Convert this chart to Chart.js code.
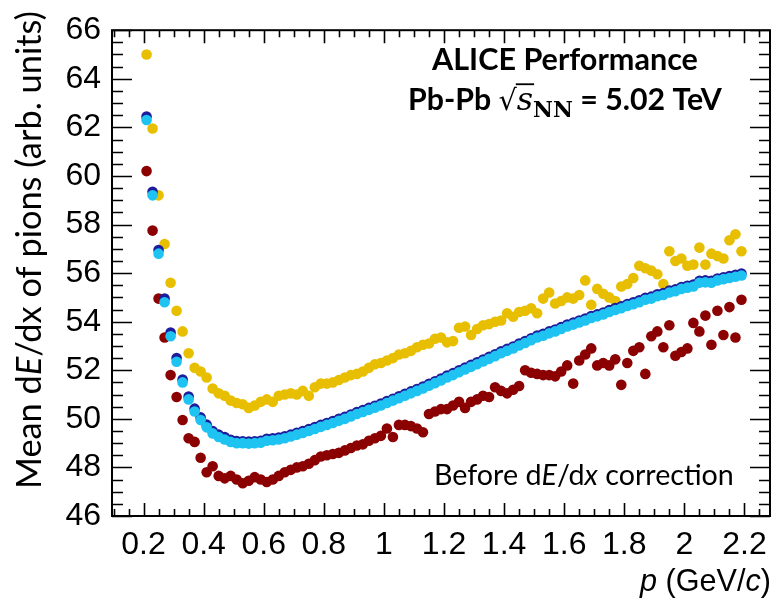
<!DOCTYPE html>
<html><head><meta charset="utf-8">
<script src="https://cdn.jsdelivr.net/npm/chart.js@4.4.1/dist/chart.umd.min.js"></script>
<style>html,body{margin:0;padding:0;background:#fff;}#wrap{position:relative;width:781px;height:601px;}</style>
</head><body><div id="wrap"><canvas id="c" width="781" height="601"></canvas></div>
<script>
// momentum bin centres (GeV/c)
const momentum = [0.21,0.23,0.25,0.27,0.29,0.31,0.33,0.35,0.37,0.39,
 0.41,0.43,0.45,0.47,0.49,0.51,0.53,0.55,0.57,0.59,
 0.61,0.63,0.65,0.67,0.69,0.71,0.73,0.75,0.77,0.79,
 0.81,0.83,0.85,0.87,0.89,0.91,0.93,0.95,0.97,0.99,
 1.01,1.03,1.05,1.07,1.09,1.11,1.13,1.15,1.17,1.19,
 1.21,1.23,1.25,1.27,1.29,1.31,1.33,1.35,1.37,1.39,
 1.41,1.43,1.45,1.47,1.49,1.51,1.53,1.55,1.57,1.59,
 1.61,1.63,1.65,1.67,1.69,1.71,1.73,1.75,1.77,1.79,
 1.81,1.83,1.85,1.87,1.89,1.91,1.93,1.95,1.97,1.99,
 2.01,2.03,2.05,2.07,2.09,2.11,2.13,2.15,2.17,2.19];

const meanYellow = [65.0,61.95,59.2,57.2,55.6,54.45,53.6,52.7,52.1,51.95,
 51.7,51.25,51.05,50.95,50.75,50.65,50.6,50.45,50.55,50.7,
 50.8,50.7,50.95,51.0,51.05,51.0,51.15,50.95,51.3,51.45,
 51.45,51.5,51.6,51.7,51.8,51.85,51.95,52.1,52.25,52.3,
 52.4,52.5,52.65,52.7,52.8,52.95,53.05,53.1,53.3,53.35,
 53.15,53.2,53.75,53.8,53.45,53.7,53.85,53.9,54.0,54.05,
 54.35,54.2,54.4,54.45,54.55,54.35,54.95,55.2,54.75,54.85,
 55.0,54.95,55.1,55.7,54.7,55.35,55.15,55.0,54.85,55.45,
 55.55,55.8,56.3,56.2,56.1,55.95,55.55,56.9,56.5,56.6,
 56.3,56.35,57.05,56.35,56.8,56.7,56.6,57.35,57.6,56.9];

const meanRed = [60.2,57.75,54.95,53.35,51.8,50.9,49.95,49.2,49.05,48.4,
 47.8,48.05,47.65,47.55,47.65,47.5,47.35,47.45,47.6,47.5,
 47.4,47.5,47.65,47.8,47.9,48.0,48.05,48.15,48.3,48.45,
 48.5,48.55,48.6,48.7,48.8,48.9,48.95,49.1,49.2,49.3,
 49.6,49.25,49.75,49.75,49.7,49.6,49.45,50.2,50.3,50.4,
 50.4,50.55,50.7,50.45,50.7,50.8,50.95,50.9,51.3,51.15,
 51.05,51.2,51.35,52.0,51.9,51.85,51.8,51.8,51.75,51.95,
 52.2,51.45,52.4,52.65,52.9,52.2,52.3,52.2,52.45,51.4,
 52.3,52.8,52.95,51.85,53.4,53.6,52.95,53.85,52.6,52.75,
 52.9,53.95,53.6,54.25,53.05,54.45,53.45,54.6,53.35,54.9];

const meanBlue = [62.45,59.35,56.95,54.95,53.55,52.5,51.62,50.92,50.42,50.06,
 49.76,49.5,49.35,49.25,49.14,49.09,49.08,49.06,49.08,49.1,
 49.18,49.2,49.23,49.28,49.35,49.43,49.5,49.58,49.66,49.75,
 49.83,49.91,50.0,50.08,50.18,50.28,50.36,50.45,50.54,50.63,
 50.73,50.83,50.93,51.03,51.13,51.23,51.33,51.44,51.55,51.66,
 51.78,51.88,52.0,52.11,52.22,52.33,52.44,52.55,52.66,52.78,
 52.88,52.98,53.1,53.2,53.32,53.43,53.5,53.6,53.68,53.78,
 53.88,53.96,54.05,54.13,54.23,54.3,54.38,54.48,54.56,54.63,
 54.73,54.8,54.88,54.98,55.03,55.13,55.18,55.28,55.33,55.43,
 55.48,55.53,55.68,55.7,55.68,55.78,55.83,55.88,55.93,55.98];

const meanCyan = [62.3,59.2,56.8,54.8,53.4,52.35,51.5,50.8,50.3,49.95,
 49.65,49.4,49.25,49.15,49.05,49.0,49.0,48.98,49.0,49.02,
 49.1,49.12,49.15,49.2,49.27,49.35,49.42,49.5,49.58,49.67,
 49.75,49.83,49.92,50.0,50.1,50.2,50.28,50.37,50.46,50.55,
 50.65,50.75,50.85,50.95,51.05,51.15,51.25,51.36,51.47,51.58,
 51.7,51.8,51.92,52.03,52.14,52.25,52.36,52.47,52.58,52.7,
 52.8,52.9,53.02,53.12,53.24,53.35,53.42,53.52,53.6,53.7,
 53.8,53.88,53.97,54.05,54.15,54.22,54.3,54.4,54.48,54.55,
 54.65,54.72,54.8,54.9,54.95,55.05,55.1,55.2,55.25,55.35,
 55.4,55.45,55.6,55.62,55.6,55.7,55.75,55.8,55.85,55.9];

const xTickValues = [0.2,0.4,0.6,0.8,1.0,1.2,1.4,1.6,1.8,2.0,2.2];
const xTickLabels = ['0.2','0.4','0.6','0.8','1','1.2','1.4','1.6','1.8','2','2.2'];
const yTickValues = [46,48,50,52,54,56,58,60,62,64,66];
const yTickLabels = ['46','48','50','52','54','56','58','60','62','64','66'];

const X_MIN = 0.095, X_MAX = 2.285, Y_MIN = 46, Y_MAX = 66;
const TICK_FONT = '"Liberation Sans Narrow", "Liberation Sans"';
const TITLE_FONT = 'Liberation Sans';
const TEXT_FONT = 'Lato';

function points(ys){ return momentum.map((p,i)=>({x:p,y:ys[i]})); }

function fontOf(s,S){ return `${s.style||'normal'} ${s.weight||'normal'} ${(s.k||1)*S}px ${s.family}`; }
function richWidth(ctx,segs,S){ let w=0; for(const s of segs){ctx.font=fontOf(s,S); w+=ctx.measureText(s.t).width;} return w; }
function fitSize(ctx,segs,target){ return 100*target/richWidth(ctx,segs,100); }
function drawRich(ctx,segs,x,y,S){
  let cx=x;
  for(const s of segs){
    ctx.font=fontOf(s,S);
    const w=ctx.measureText(s.t).width;
    ctx.fillText(s.t,cx,y+(s.dy||0)*S);
    if(s.over){ ctx.fillRect(cx-1,y-s.over*S,w+2,Math.max(1.5,S*0.06)); }
    cx+=w;
  }
}

const framePlugin = {
  id:'frame',
  afterDraw(chart){
    const ctx=chart.ctx, a=chart.chartArea, xs=chart.scales.x, ys=chart.scales.y;
    ctx.save();
    ctx.strokeStyle='#000'; ctx.lineWidth=2;
    ctx.strokeRect(a.left,a.top,a.right-a.left,a.bottom-a.top);
    ctx.lineWidth=1.6;
    ctx.beginPath();
    for(let k=0;k<=40;k++){
      const v=Y_MIN+k*0.5; const py=Math.round(ys.getPixelForValue(v))+0.5;
      const L=(k%4===0)?20:11;
      ctx.moveTo(a.left,py); ctx.lineTo(a.left+L,py);
      ctx.moveTo(a.right,py); ctx.lineTo(a.right-L,py);
    }
    for(let k=2;k<=45;k++){
      const v=k*0.05; if(v<X_MIN||v>X_MAX) continue;
      const px=Math.round(xs.getPixelForValue(v))+0.5;
      const L=(k%4===0)?13:7;
      ctx.moveTo(px,a.bottom); ctx.lineTo(px,a.bottom-L);
      ctx.moveTo(px,a.top); ctx.lineTo(px,a.top+L);
    }
    ctx.stroke();

    ctx.fillStyle='#000'; ctx.textBaseline='alphabetic'; ctx.textAlign='left';
    const t1=[{t:'ALICE Performance',weight:'bold',family:TEXT_FONT}];
    drawRich(ctx,t1,432,70,fitSize(ctx,t1,266));
    const t2=[{t:'Pb-Pb ',weight:'bold',family:TEXT_FONT},
      {t:'\u221A',family:'DejaVu Sans',k:0.95},
      {t:'s',style:'italic',family:'DejaVu Serif',k:1.05,over:0.88},
      {t:'NN',weight:'bold',family:'DejaVu Serif',k:0.72,dy:0.22},
      {t:' = 5.02 TeV',weight:'bold',family:TEXT_FONT}];
    drawRich(ctx,t2,408,110,fitSize(ctx,t2,314));
    const t3=[{t:'Before d',family:TEXT_FONT},{t:'E',style:'italic',family:TEXT_FONT},
      {t:'/d',family:TEXT_FONT},{t:'x',style:'italic',family:TEXT_FONT},{t:' correction',family:TEXT_FONT}];
    drawRich(ctx,t3,434,485,fitSize(ctx,t3,300));
    const tx=[{t:'p',style:'italic',family:TICK_FONT},{t:' (GeV/',family:TICK_FONT},
      {t:'c',style:'italic',family:TICK_FONT},{t:')',family:TICK_FONT}];
    const Sx=fitSize(ctx,tx,131);
    drawRich(ctx,tx,771-richWidth(ctx,tx,Sx),591,Sx);
    const ty=[{t:'Mean d',family:TEXT_FONT},{t:'E',style:'italic',family:TEXT_FONT},
      {t:'/dx of pions (arb. units)',family:TEXT_FONT}];
    const Sy=fitSize(ctx,ty,478);
    ctx.translate(41,489); ctx.rotate(-Math.PI/2);
    drawRich(ctx,ty,0,0,Sy);
    ctx.restore();
  }
};

const mk=(label,data,color,order)=>({label,data:points(data),backgroundColor:color,borderColor:color,
  pointRadius:5.3,pointHoverRadius:5.3,pointBorderWidth:0,showLine:false,order});

new Chart(document.getElementById('c'),{
  type:'scatter',
  data:{datasets:[
    mk('cyan',meanCyan,'#1ec3f2',0),
    mk('blue',meanBlue,'#1c1c9c',1),
    mk('yellow',meanYellow,'#e8bf00',2),
    mk('red',meanRed,'#8b0000',3)
  ]},
  options:{
    responsive:false, animation:false, devicePixelRatio:1,
    layout:{padding:{top:18,right:11,left:0,bottom:0}},
    plugins:{legend:{display:false},tooltip:{enabled:false}},
    scales:{
      x:{type:'linear',min:X_MIN,max:X_MAX,position:'bottom',
        grid:{display:false,drawTicks:false},border:{display:false},
        afterBuildTicks:s=>{s.ticks=xTickValues.map(v=>({value:v}));},
        afterFit:s=>{s.height=85;},
        ticks:{autoSkip:false,maxRotation:0,padding:10,color:'#000',font:{family:TICK_FONT,size:32},
          callback:(v)=>{const i=xTickValues.findIndex(t=>Math.abs(t-v)<1e-6);return i>=0?xTickLabels[i]:'';}}},
      y:{type:'linear',min:Y_MIN,max:Y_MAX,
        grid:{display:false,drawTicks:false},border:{display:false},
        afterBuildTicks:s=>{s.ticks=yTickValues.map(v=>({value:v}));},
        afterFit:s=>{s.width=112;},
        ticks:{autoSkip:false,padding:11,color:'#000',font:{family:TICK_FONT,size:32},
          callback:(v)=>{const i=yTickValues.indexOf(v);return i>=0?yTickLabels[i]:'';}}}
    }
  },
  plugins:[framePlugin]
});
</script></body></html>
